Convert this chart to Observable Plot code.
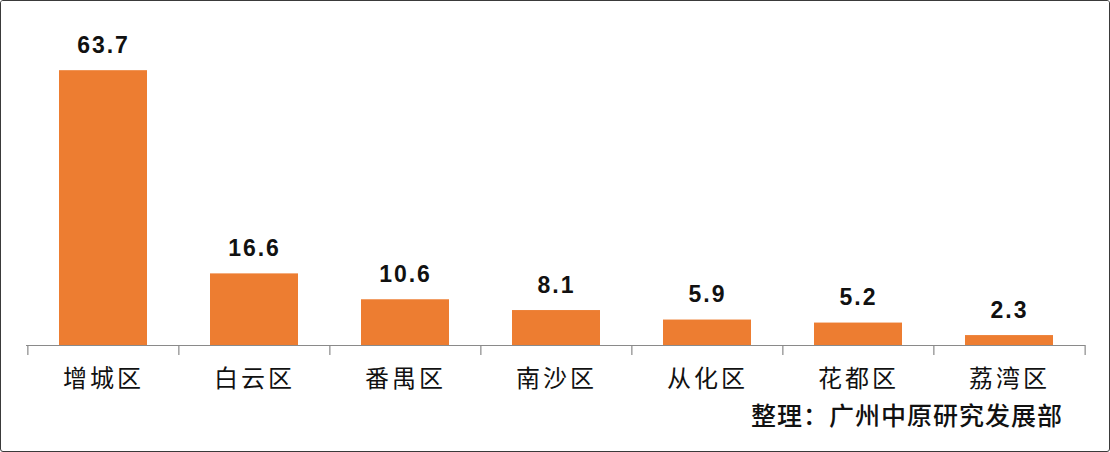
<!DOCTYPE html>
<html>
<head>
<meta charset="utf-8">
<script src="https://cdn.jsdelivr.net/npm/d3@7"></script>
<script src="https://cdn.jsdelivr.net/npm/@observablehq/plot@0.6"></script>
<style>
  html, body { margin: 0; padding: 0; background: #fff; }
  #wrap {
    position: relative; width: 1110px; height: 452px; box-sizing: border-box;
    border: 1px solid #3a3a3a; border-radius: 3px; overflow: hidden; background: #fff;
  }
  #chart svg { display: block; }
  #caption {
    position: absolute; right: 46px; top: 398px; line-height: 30px;
    font-family: "Noto Sans CJK SC", sans-serif; font-size: 25px; font-weight: 500;
    letter-spacing: 1px; color: #111; white-space: nowrap;
  }
</style>
</head>
<body>
<div id="wrap">
  <div id="chart"></div>
  <div id="caption">整理：广州中原研究发展部</div>
</div>
<script>
const categories = ["增城区", "白云区", "番禺区", "南沙区", "从化区", "花都区", "荔湾区"];
const values = [63.7, 16.6, 10.6, 8.1, 5.9, 5.2, 2.3];
const data = categories.map((c, i) => ({district: c, value: values[i]}));

const W = 1108, H = 392, mL = 25, mR = 24, mT = 42, mB = 48;
const step = (W - mL - mR) / categories.length;
const axisColor = "#8a8a8a";

const chart = Plot.plot({
  width: W, height: H,
  marginLeft: mL, marginRight: mR, marginTop: mT, marginBottom: mB,
  style: {background: "white", overflow: "visible"},
  x: {type: "band", domain: categories, paddingInner: 0.418, paddingOuter: 0.209, axis: null},
  y: {domain: [0, 70], axis: null},
  marks: [
    Plot.barY(data, {x: "district", y: "value", fill: "#ED7D31"}),
    Plot.ruleY([0], {stroke: axisColor, strokeWidth: 1.2}),
    Plot.ruleX(categories, {x: d => d, dx: -step / 2, insetTop: H - mT - mB, insetBottom: -10, stroke: axisColor, strokeWidth: 1.2}),
    Plot.ruleX(categories.slice(-1), {x: d => d, dx: step / 2, insetTop: H - mT - mB, insetBottom: -10, stroke: axisColor, strokeWidth: 1.2}),
    Plot.text(data, {x: "district", y: "value", text: d => d.value.toFixed(1), dy: -25, lineAnchor: "middle",
      fontSize: 23, fontWeight: "bold", fontFamily: "Liberation Sans, Arial, sans-serif", fill: "#111"}),
    Plot.text(categories, {x: d => d, y: () => 0, dy: 34, lineAnchor: "middle",
      fontSize: 24, fontFamily: "Noto Sans CJK SC, sans-serif", fill: "#111"})
  ]
});
document.getElementById("chart").appendChild(chart);
const textGroups = chart.querySelectorAll('g[aria-label="text"]');
if (textGroups[0]) textGroups[0].style.letterSpacing = "2px";
if (textGroups[1]) textGroups[1].style.letterSpacing = "3px";
</script>
</body>
</html>
